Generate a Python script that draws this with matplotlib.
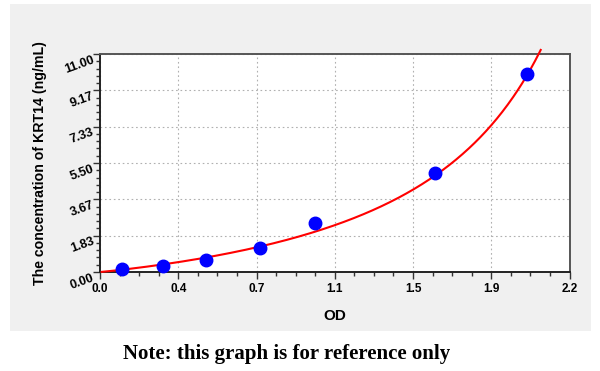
import numpy as np
import matplotlib
matplotlib.use("Agg")
import matplotlib.pyplot as plt
from matplotlib.patches import Rectangle
from matplotlib.ticker import FixedLocator, AutoMinorLocator

# data
od = [0.104, 0.295, 0.497, 0.750, 1.006, 1.571, 2.000]
conc = [0.14, 0.32, 0.61, 1.21, 2.49, 4.98, 9.97]
xtick_labels = ["0.0", "0.4", "0.7", "1.1", "1.5", "1.9", "2.2"]
ytick_labels = ["0.00", "1.83", "3.67", "5.50", "7.33", "9.17", "11.00"]
x_max = 2.2
y_max = 11.0


def fit_inverse_4pl(x, y):
    """conc = C * ((x - A) / (D - x)) ** p, grid search on A, D + log-linear LSQ."""
    x = np.asarray(x, float)
    y = np.asarray(y, float)
    best = None
    for A in np.linspace(0.0, min(x) - 0.01, 40):
        for D in np.linspace(max(x) + 0.02, 6.0, 300):
            X = np.log((x - A) / (D - x))
            p, lc = np.polyfit(X, np.log(y), 1)
            pred = np.exp(lc) * np.exp(p * X)
            sse = np.sum((y - pred) ** 2)
            if best is None or sse < best[0]:
                best = (sse, A, D, p, np.exp(lc))
    return best[1:]


fig = plt.figure(figsize=(6, 3.71), dpi=100)
fig.patch.set_facecolor("white")
fig.add_artist(Rectangle((10/600, 1-331/371), 581/600, (331-4)/371,
                         transform=fig.transFigure, facecolor="#f0f0f0",
                         edgecolor="none", zorder=0))

ax = fig.add_axes([100/600, 1-272/371, 469.5/600, 218/371])
ax.set_facecolor("white")
ax.set_xlim(0, x_max)
ax.set_ylim(0, y_max)

xt = np.linspace(0, x_max, len(xtick_labels))
yt = np.linspace(0, y_max, len(ytick_labels))
ax.xaxis.set_major_locator(FixedLocator(xt))
ax.yaxis.set_major_locator(FixedLocator(yt))
ax.set_xticklabels(xtick_labels, fontsize=8.5, fontweight="bold", family="Liberation Sans")
ax.set_yticklabels(ytick_labels, fontsize=9, fontweight="bold", family="Liberation Sans",
                   rotation=20, va="top", ha="right", rotation_mode="anchor")
ax.xaxis.set_minor_locator(AutoMinorLocator(4))
ax.yaxis.set_minor_locator(AutoMinorLocator(5))
ax.tick_params(which="major", direction="out", length=5, width=1, color="#333333", pad=3)
ax.tick_params(axis="y", which="major", pad=1)
ax.tick_params(which="minor", direction="out", length=3, width=1, color="#333333")
ax.grid(True, which="major", linestyle=(0, (1.5, 2.5)), color="#b0b0b0", linewidth=0.8)

for s in ["left", "bottom"]:
    ax.spines[s].set_linewidth(1.4)
    ax.spines[s].set_color("#222222")
for s in ["top", "right"]:
    ax.spines[s].set_linewidth(1.4)
    ax.spines[s].set_color("#555555")

A, D, p, C = fit_inverse_4pl(od, conc)
xs = np.linspace(max(A, 0.0) + 0.008, 2.065, 400)
ys = C * ((xs - A) / (D - xs)) ** p
ax.plot(xs, ys, color="red", linewidth=1.5, clip_on=False, zorder=3)
ax.plot(od, conc, "o", color="#0000ff", markersize=9, zorder=4, clip_on=False)

ax.set_xlabel("OD", fontsize=11, fontweight="bold", family="Liberation Sans", labelpad=10)
ax.set_ylabel("The concentration of KRT14 (ng/mL)", fontsize=10.2, fontweight="bold",
              family="Liberation Sans", labelpad=11)

fig.text(287/600, 1-354/371, "Note: this graph is for reference only", ha="center", va="center",
         fontsize=15, fontweight="bold", family="Liberation Serif")

fig.savefig("out.png", dpi=100)
